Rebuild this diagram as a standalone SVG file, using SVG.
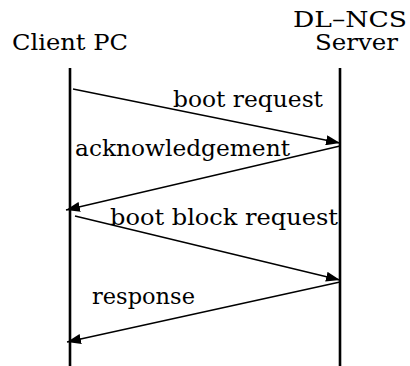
<svg xmlns="http://www.w3.org/2000/svg" width="410" height="366" viewBox="0 0 410 366">
<style>
.t{font-family:'DejaVu Serif','Liberation Serif',serif;font-size:23px;fill:#000}
.h{font-size:22px}
.life{stroke:#000;stroke-width:2.6;fill:none}
.msg{stroke:#000;stroke-width:1.4;fill:none}
</style>
<defs>
<marker id="ah" viewBox="0 0 14 10" refX="14" refY="5" markerWidth="14" markerHeight="10" markerUnits="userSpaceOnUse" orient="auto">
<path d="M0,0 L14,5 L0,10 Z" fill="#000"/>
</marker>
</defs>
<rect width="410" height="366" fill="#fff"/>
<g id="client">
<text class="t" x="12" y="50" textLength="116" lengthAdjust="spacingAndGlyphs">Client  PC</text>
<line class="life" x1="70" y1="68" x2="70" y2="366"/>
</g>
<g id="server">
<text class="t h" x="293" y="27" textLength="114" lengthAdjust="spacingAndGlyphs">DL–NCS</text>
<text class="t h" x="315" y="50" textLength="83" lengthAdjust="spacingAndGlyphs">Server</text>
<line class="life" x1="340" y1="68" x2="340" y2="366"/>
</g>
<g id="connectors">
<line class="msg" x1="73" y1="89" x2="340" y2="143" marker-end="url(#ah)"/>
<line class="msg" x1="340" y1="146" x2="66" y2="210" marker-end="url(#ah)"/>
<line class="msg" x1="75" y1="216" x2="340" y2="280" marker-end="url(#ah)"/>
<line class="msg" x1="340" y1="282" x2="67" y2="342" marker-end="url(#ah)"/>
<text class="t" x="173" y="107" textLength="150" lengthAdjust="spacingAndGlyphs">boot  request</text>
<text class="t" x="75" y="156" textLength="215" lengthAdjust="spacingAndGlyphs">acknowledgement</text>
<text class="t" x="110" y="225" textLength="228" lengthAdjust="spacingAndGlyphs">boot  block  request</text>
<text class="t" x="92" y="304" textLength="103" lengthAdjust="spacingAndGlyphs">response</text>
</g>
</svg>
